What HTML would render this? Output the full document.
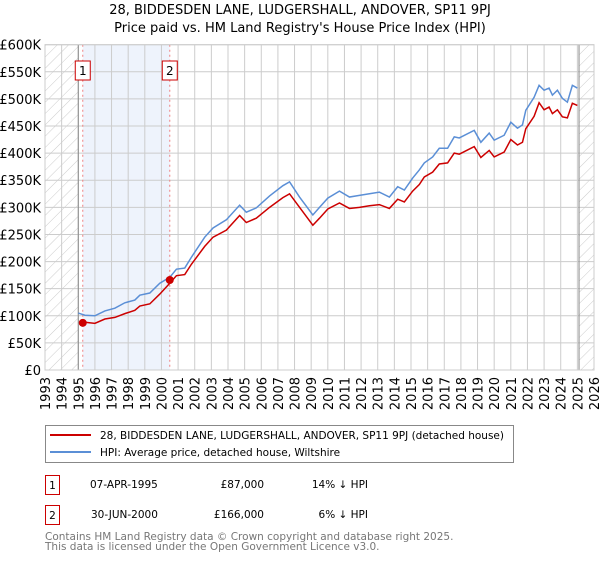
<!DOCTYPE html>
<html><head><meta charset="utf-8"><style>
body{margin:0;background:#fff;font-family:"Liberation Sans","DejaVu Sans",sans-serif;}
svg text{font-family:"DejaVu Sans","Liberation Sans",sans-serif;}
</style></head><body>
<svg id="chart" width="600" height="560" xmlns="http://www.w3.org/2000/svg">
<defs>
<pattern id="hatch" patternUnits="userSpaceOnUse" width="8" height="8" patternTransform="rotate(45)">
<line x1="0" y1="0" x2="0" y2="8" stroke="#ccc" stroke-width="1"/></pattern>
</defs>
<text x="300" y="14" font-size="13" text-anchor="middle">28, BIDDESDEN LANE, LUDGERSHALL, ANDOVER, SP11 9PJ</text>
<text x="300" y="32" font-size="13" text-anchor="middle">Price paid vs. HM Land Registry's House Price Index (HPI)</text>
<g id="plot"></g>
<g>
<rect x="45.5" y="425.5" width="468" height="37" fill="#fff" stroke="#888"/>
<line x1="50" y1="435" x2="91" y2="435" stroke="#cc0000" stroke-width="2"/>
<text x="100" y="439" font-size="10.5">28, BIDDESDEN LANE, LUDGERSHALL, ANDOVER, SP11 9PJ (detached house)</text>
<line x1="50" y1="452" x2="91" y2="452" stroke="#5b8fd6" stroke-width="2"/>
<text x="100" y="456" font-size="10.5">HPI: Average price, detached house, Wiltshire</text>
</g>
<g font-size="10.5">
<rect x="45.5" y="475.5" width="14" height="19" fill="#fff" stroke="#cc0000"/>
<text x="52.5" y="489" text-anchor="middle">1</text>
<text x="90" y="488">07-APR-1995</text>
<text x="264" y="488" text-anchor="end">£87,000</text>
<text x="368" y="488" text-anchor="end">14% ↓ HPI</text>
<rect x="45.5" y="505.5" width="14" height="19" fill="#fff" stroke="#cc0000"/>
<text x="52.5" y="519" text-anchor="middle">2</text>
<text x="91" y="518">30-JUN-2000</text>
<text x="264" y="518" text-anchor="end">£166,000</text>
<text x="368" y="518" text-anchor="end">6% ↓ HPI</text>
</g>
<g font-size="10.5" fill="#777">
<text x="45" y="540">Contains HM Land Registry data © Crown copyright and database right 2025.</text>
<text x="45" y="550">This data is licensed under the Open Government Licence v3.0.</text>
</g>
</svg>
<script>
const years=[1995.0,1995.4,1996.0,1996.6,1997.2,1997.8,1998.4,1998.7,1999.3,1999.9,2000.5,2000.9,2001.4,2001.8,2002.6,2003.1,2003.9,2004.7,2005.1,2005.7,2006.5,2007.3,2007.7,2008.3,2009.1,2009.5,2010.0,2010.7,2011.3,2011.9,2012.5,2013.1,2013.7,2014.2,2014.6,2015.1,2015.5,2015.8,2016.3,2016.7,2017.2,2017.6,2017.9,2018.8,2019.2,2019.7,2020.0,2020.6,2021.0,2021.4,2021.7,2021.9,2022.4,2022.7,2023.0,2023.3,2023.5,2023.8,2024.1,2024.4,2024.7,2025.0];
const hpiValues=[105,101,100,109,114,124,129,138,142,160,171,186,188,208,245,262,277,304,291,299,321,340,347,319,286,300,317,330,319,322,325,328,319,338,332,354,369,382,393,409,409,430,428,442,420,437,424,433,457,446,452,479,503,525,516,520,507,516,501,494,525,520];
const priceValues=[88,88,86,94,97,104,110,118,122,140,160,174,176,195,228,245,258,285,272,280,300,318,325,300,267,280,297,308,298,300,303,305,298,315,310,330,342,356,365,380,382,400,398,412,392,405,393,402,425,415,420,445,468,493,480,485,473,480,467,465,492,488];
const saleYears=[1995.27,2000.5];
const salePrices=[87,166];
const saleLabels=["1","2"];
const yTicks=[0,50,100,150,200,250,300,350,400,450,500,550,600];
const yTickLabels=["£0","£50K","£100K","£150K","£200K","£250K","£300K","£350K","£400K","£450K","£500K","£550K","£600K"];
const xTicks=[1993,1994,1995,1996,1997,1998,1999,2000,2001,2002,2003,2004,2005,2006,2007,2008,2009,2010,2011,2012,2013,2014,2015,2016,2017,2018,2019,2020,2021,2022,2023,2024,2025,2026];
const dataEnd=2025.1;

const L=45,R=594,T=44.7,B=370;
const xS=y=>L+(y-1993)/(2026-1993)*(R-L);
const yS=v=>B-v/600*(B-T);
const NS="http://www.w3.org/2000/svg";
const plot=document.getElementById('plot');
function mk(tag,attrs,parent){const e=document.createElementNS(NS,tag);for(const k in attrs)e.setAttribute(k,attrs[k]);(parent||plot).appendChild(e);return e;}

let e;
e=mk('rect',{x:xS(saleYears[0]),y:T,width:xS(saleYears[1])-xS(saleYears[0]),height:B-T,fill:'#eef3fc'});


e=mk('rect',{x:L,y:T,width:xS(1995)-L,height:B-T,fill:'url(#hatch)'});


e=mk('rect',{x:xS(dataEnd),y:T,width:R-xS(dataEnd),height:B-T,fill:'url(#hatch)'});



yTicks.forEach((v,i)=>{
 e=mk('line',{x1:L,x2:R,y1:yS(v),y2:yS(v),stroke:'#ccc','stroke-width':1});
 
 
 e=mk('text',{x:L-4,y:yS(v)+5,'font-size':13,'text-anchor':'end'});
 e.textContent=yTickLabels[i];
 
 
});
xTicks.forEach(t=>{
 e=mk('line',{x1:xS(t),x2:xS(t),y1:T,y2:B,stroke:'#ccc','stroke-width':1});
 
 
 e=mk('text',{x:0,y:0,'font-size':13,'text-anchor':'end',transform:`translate(${xS(t)+5},${B+7}) rotate(-90)`});
 e.textContent=t;
 
 
});
[1995,dataEnd].forEach(t=>{
 e=mk('line',{x1:xS(t),x2:xS(t),y1:T,y2:B,stroke:'#888','stroke-width':1});
 
 
});
saleYears.forEach((t,i)=>{
 e=mk('line',{x1:xS(t),x2:xS(t),y1:T,y2:B,stroke:'#f08080','stroke-width':1,'stroke-dasharray':'2,3'});
 
 
});
e=mk('polyline',{points:years.map((y,i)=>xS(y)+','+yS(hpiValues[i])).join(' '),fill:'none',stroke:'#5b8fd6','stroke-width':1.5});


const rp=[[saleYears[0],salePrices[0]]];
years.forEach((y,i)=>{if(y>saleYears[0])rp.push([y,priceValues[i]]);});
e=mk('polyline',{points:rp.map(p=>xS(p[0])+','+yS(p[1])).join(' '),fill:'none',stroke:'#cc0000','stroke-width':1.5});


saleYears.forEach((t,i)=>{
 e=mk('circle',{cx:xS(t),cy:yS(salePrices[i]),r:4,fill:'#cc0000'});
 
 
 e=mk('rect',{x:xS(t)-7.5,y:61,width:15,height:19,fill:'#fff',stroke:'#cc0000'});
 
 
 e=mk('text',{x:xS(t),y:75,'font-size':12,'text-anchor':'middle'});
 e.textContent=saleLabels[i];
 
 
});
e=mk('rect',{x:L,y:T,width:R-L,height:B-T,fill:'none',stroke:'#ccc'});


</script>
</body></html>
